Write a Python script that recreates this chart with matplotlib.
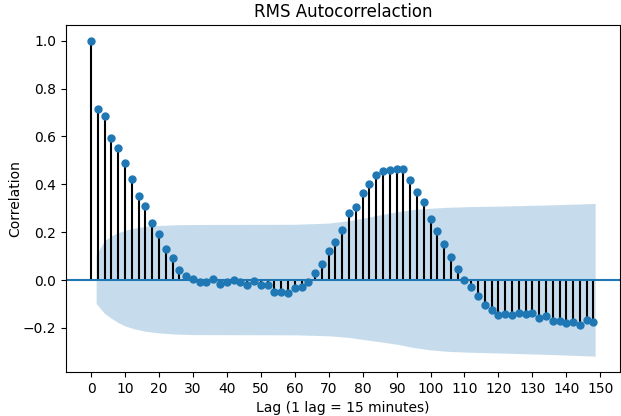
import numpy as np
from matplotlib import pyplot as plt
from matplotlib.ticker import MultipleLocator

# lags 0, 2, 4, ... 148
lags = np.arange(0, 150, 2)
acf = [1.0, 0.713, 0.686, 0.593, 0.551, 0.487, 0.423, 0.351, 0.310, 0.237,
       0.192, 0.128, 0.091, 0.042, 0.015, 0.004, -0.007, -0.010, 0.003, -0.015,
       -0.007, 0.001, -0.007, -0.020, -0.006, -0.020, -0.020, -0.049, -0.049, -0.055,
       -0.035, -0.031, -0.009, 0.028, 0.067, 0.120, 0.158, 0.211, 0.279, 0.307,
       0.363, 0.400, 0.438, 0.457, 0.460, 0.464, 0.464, 0.418, 0.369, 0.327,
       0.256, 0.203, 0.150, 0.097, 0.048, 0.002, -0.029, -0.066, -0.106, -0.126,
       -0.148, -0.141, -0.145, -0.138, -0.141, -0.138, -0.159, -0.152, -0.171, -0.171,
       -0.180, -0.176, -0.187, -0.167, -0.176]

# confidence band (half width) read at a few lags
band_lags = [1.5, 4, 6, 8, 10, 13, 16, 20, 25, 30, 60, 70, 76, 80, 85, 90, 95, 100, 105, 112, 120, 135, 148.5]
band_upper = [0.105, 0.165, 0.185, 0.198, 0.208, 0.218, 0.224, 0.228, 0.231, 0.232, 0.233, 0.238, 0.248, 0.258, 0.272, 0.285, 0.295, 0.300, 0.304, 0.307, 0.309, 0.314, 0.320]
band_lower = [-0.098, -0.140, -0.160, -0.178, -0.192, -0.205, -0.214, -0.221, -0.226, -0.228, -0.229, -0.233, -0.240, -0.248, -0.258, -0.268, -0.282, -0.292, -0.298, -0.302, -0.305, -0.311, -0.318]

fig, ax = plt.subplots(figsize=(6.21, 4.16), dpi=100)
fig.subplots_adjust(left=0.106, right=0.999, top=0.94, bottom=0.106)

ax.vlines(lags, [0], acf, colors='k', lw=1.5)
ax.plot(lags, acf, marker='o', markersize=5, linestyle='None', color='C0')
ax.axhline(0, color='C0', lw=1.5)
ax.fill_between(band_lags, band_lower, band_upper, color='C0', alpha=0.25, lw=0)

ax.xaxis.set_major_locator(MultipleLocator(10))
ax.set_title('RMS Autocorrelaction')
ax.set_xlabel('Lag (1 lag = 15 minutes)')
ax.set_ylabel('Correlation', labelpad=0)

plt.savefig('out.png')
